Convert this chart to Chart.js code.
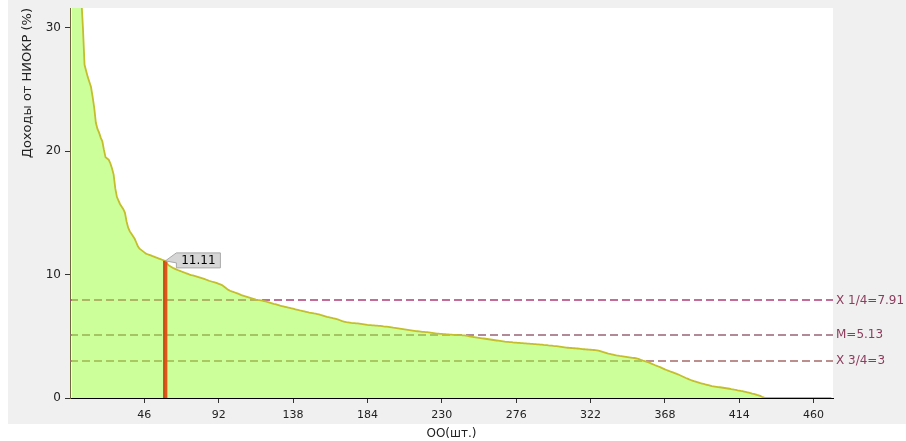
<!DOCTYPE html>
<html>
<head>
<meta charset="utf-8">
<script src="https://cdn.jsdelivr.net/npm/chart.js@4/dist/chart.umd.min.js"></script>
<style>
  html, body { margin: 0; padding: 0; background: #ffffff; }
  #wrap { width: 906px; height: 441px; position: relative; }
</style>
</head>
<body>
<div id="wrap"><canvas id="incomeChart"></canvas></div>
<script>
// доходы от НИОКР по ОО, отсортировано по убыванию (%)
const incomeValues = [
  58.0, 46.0, 41.0, 38.5, 36.0, 34.0, 32.4, 30.0, 27.0, 26.5,
  26.0, 25.6, 25.2, 24.4, 23.5, 22.3, 21.8, 21.5, 21.1, 20.8,
  20.1, 19.5, 19.4, 19.3, 19.0, 18.6, 18.1, 17.0, 16.3, 16.0,
  15.7, 15.5, 15.3, 15.0, 14.3, 13.8, 13.5, 13.3, 13.1, 12.9,
  12.6, 12.3, 12.1, 12.0, 11.9, 11.8, 11.7, 11.65, 11.6, 11.55,
  11.5, 11.45, 11.4, 11.35, 11.3, 11.25, 11.2, 11.15, 11.11, 10.9,
  10.75, 10.68, 10.6, 10.52, 10.46, 10.4, 10.35, 10.3, 10.25, 10.2,
  10.15, 10.1, 10.05, 10.0, 9.96, 9.93, 9.9, 9.86, 9.82, 9.78,
  9.74, 9.7, 9.65, 9.6, 9.55, 9.5, 9.46, 9.42, 9.38, 9.34,
  9.3, 9.25, 9.2, 9.15, 9.05, 8.95, 8.85, 8.76, 8.69, 8.64,
  8.6, 8.55, 8.5, 8.45, 8.4, 8.34, 8.3, 8.26, 8.22, 8.18,
  8.14, 8.1, 8.06, 8.02, 7.98, 7.95, 7.93, 7.91, 7.88, 7.85,
  7.82, 7.78, 7.75, 7.71, 7.67, 7.63, 7.6, 7.56, 7.52, 7.48,
  7.45, 7.42, 7.39, 7.36, 7.33, 7.3, 7.27, 7.24, 7.2, 7.17,
  7.14, 7.11, 7.07, 7.04, 7.01, 6.98, 6.95, 6.92, 6.9, 6.88,
  6.85, 6.83, 6.8, 6.77, 6.73, 6.7, 6.66, 6.62, 6.58, 6.55,
  6.52, 6.49, 6.46, 6.43, 6.4, 6.35, 6.3, 6.25, 6.2, 6.17,
  6.14, 6.12, 6.1, 6.08, 6.07, 6.06, 6.05, 6.04, 6.02, 6.0,
  5.98, 5.96, 5.94, 5.92, 5.91, 5.9, 5.89, 5.88, 5.87, 5.86,
  5.85, 5.84, 5.82, 5.8, 5.79, 5.78, 5.77, 5.75, 5.73, 5.7,
  5.68, 5.66, 5.64, 5.62, 5.6, 5.58, 5.56, 5.54, 5.52, 5.5,
  5.48, 5.46, 5.44, 5.42, 5.41, 5.4, 5.38, 5.36, 5.35, 5.34,
  5.33, 5.32, 5.3, 5.28, 5.26, 5.24, 5.22, 5.21, 5.2, 5.19,
  5.18, 5.17, 5.16, 5.15, 5.13, 5.13, 5.12, 5.12, 5.11, 5.1,
  5.1, 5.09, 5.08, 5.07, 5.05, 5.03, 5.0, 4.98, 4.96, 4.94,
  4.92, 4.9, 4.88, 4.86, 4.84, 4.82, 4.8, 4.78, 4.76, 4.74,
  4.72, 4.7, 4.68, 4.66, 4.64, 4.62, 4.6, 4.58, 4.56, 4.55,
  4.54, 4.53, 4.52, 4.5, 4.49, 4.48, 4.47, 4.46, 4.45, 4.44,
  4.43, 4.42, 4.41, 4.4, 4.39, 4.38, 4.37, 4.36, 4.35, 4.34,
  4.33, 4.32, 4.3, 4.29, 4.28, 4.26, 4.25, 4.24, 4.22, 4.21,
  4.2, 4.18, 4.16, 4.14, 4.12, 4.1, 4.08, 4.07, 4.06, 4.05,
  4.04, 4.03, 4.02, 4.01, 4.0, 3.98, 3.96, 3.95, 3.94, 3.93,
  3.92, 3.91, 3.9, 3.89, 3.88, 3.86, 3.84, 3.8, 3.76, 3.72,
  3.68, 3.64, 3.6, 3.57, 3.54, 3.51, 3.48, 3.45, 3.43, 3.41,
  3.4, 3.38, 3.36, 3.34, 3.32, 3.3, 3.28, 3.26, 3.24, 3.22,
  3.2, 3.15, 3.1, 3.05, 3.0, 2.97, 2.93, 2.89, 2.83, 2.77,
  2.71, 2.65, 2.6, 2.55, 2.5, 2.44, 2.38, 2.32, 2.27, 2.22,
  2.17, 2.12, 2.07, 2.02, 1.97, 1.92, 1.86, 1.8, 1.74, 1.68,
  1.62, 1.57, 1.51, 1.46, 1.41, 1.36, 1.32, 1.28, 1.24, 1.2,
  1.17, 1.14, 1.1, 1.07, 1.04, 1.01, 0.97, 0.95, 0.93, 0.91,
  0.89, 0.87, 0.85, 0.83, 0.81, 0.79, 0.77, 0.75, 0.72, 0.7,
  0.67, 0.65, 0.62, 0.6, 0.57, 0.55, 0.52, 0.49, 0.46, 0.43,
  0.4, 0.36, 0.33, 0.29, 0.25, 0.22, 0.17, 0.1, 0.05, 0,
  0, 0, 0, 0, 0, 0, 0, 0, 0, 0,
  0, 0, 0, 0, 0, 0, 0, 0, 0, 0,
  0, 0, 0, 0, 0, 0, 0, 0, 0, 0,
  0, 0, 0, 0, 0, 0, 0, 0, 0, 0,
  0
];

const xTickValues = [46, 92, 138, 184, 230, 276, 322, 368, 414, 460];
const yTickValues = [0, 10, 20, 30];

// квартили и медиана
const refValues = [7.91, 5.13, 3];
const refLabels = ['X 1/4=7.91', 'M=5.13', 'X 3/4=3'];
const refColors = ['#b03c78', '#966474', '#a86a6a'];

// выделенная ОО
const markedIndex = 59;
const markedValue = 11.11;

const FONT = 'DejaVu Sans';

const backgroundPlugin = {
    id: 'panelBackground',
    beforeDraw(chart) {
        const { ctx, chartArea, width, height } = chart;
        ctx.save();
        ctx.fillStyle = '#ffffff';
        ctx.fillRect(0, 0, width, height);
        ctx.fillStyle = '#f0f0f0';
        ctx.fillRect(8, 0, width - 8, 424);
        ctx.fillStyle = '#ffffff';
        ctx.fillRect(chartArea.left, chartArea.top, chartArea.right - chartArea.left, chartArea.bottom - chartArea.top);
        ctx.restore();
    }
};

const refLinesPlugin = {
    id: 'refLines',
    beforeDatasetsDraw(chart) {
        const { ctx, chartArea, scales } = chart;
        ctx.save();
        ctx.lineWidth = 1.5;
        ctx.setLineDash([8, 4]);
        refValues.forEach((v, i) => {
            const y = Math.round(scales.y.getPixelForValue(v));
            ctx.strokeStyle = refColors[i];
            ctx.beginPath();
            ctx.moveTo(chartArea.left, y);
            ctx.lineTo(chartArea.right, y);
            ctx.stroke();
        });
        ctx.restore();
    },
    afterDatasetsDraw(chart) {
        const { ctx, chartArea, scales } = chart;
        ctx.save();
        ctx.font = '12px "' + FONT + '"';
        ctx.fillStyle = '#8c3c5c';
        ctx.textBaseline = 'middle';
        ctx.textAlign = 'left';
        refValues.forEach((v, i) => {
            const y = scales.y.getPixelForValue(v);
            ctx.fillText(refLabels[i], chartArea.right + 3, y);
        });

        // выделенная ОО: столбик и выноска
        const x = scales.x.getPixelForValue(markedIndex);
        const yTop = scales.y.getPixelForValue(markedValue);
        const yBottom = scales.y.getPixelForValue(0);
        ctx.fillStyle = '#dc5818';
        ctx.fillRect(x - 2, yTop, 4, yBottom - yTop);
        ctx.fillStyle = '#b23c10';
        ctx.fillRect(x - 2, yTop, 1, yBottom - yTop);

        const boxL = x + 11, boxT = yTop - 8, boxW = 44, boxH = 15;
        ctx.beginPath();
        ctx.moveTo(x, yTop);
        ctx.lineTo(boxL, boxT);
        ctx.lineTo(boxL + boxW, boxT);
        ctx.lineTo(boxL + boxW, boxT + boxH);
        ctx.lineTo(boxL, boxT + boxH);
        ctx.lineTo(boxL, yTop + 2);
        ctx.closePath();
        ctx.fillStyle = '#d6d6d6';
        ctx.fill();
        ctx.strokeStyle = '#a8a8a8';
        ctx.lineWidth = 1;
        ctx.stroke();
        ctx.fillStyle = '#000000';
        ctx.textAlign = 'center';
        ctx.fillText(markedValue.toFixed(2), boxL + boxW / 2, boxT + boxH / 2 + 0.5);
        ctx.restore();
    }
};

const ctx = document.getElementById('incomeChart').getContext('2d');
new Chart(ctx, {
    type: 'line',
    data: {
        datasets: [{
            label: 'Доходы от НИОКР',
            data: incomeValues.map((v, i) => ({ x: i + 1, y: v })),
            borderColor: '#c4be2c',
            backgroundColor: 'rgba(153, 255, 51, 0.5)',
            borderWidth: 1.8,
            pointRadius: 0,
            tension: 0,
            fill: 'origin'
        }]
    },
    options: {
        responsive: true,
        maintainAspectRatio: false,
        animation: false,
        layout: { padding: { left: 0, right: 73, top: 8, bottom: 0 } },
        plugins: {
            legend: { display: false },
            tooltip: { enabled: false }
        },
        scales: {
            x: {
                type: 'linear',
                min: 0,
                max: 472,
                afterBuildTicks: scale => { scale.ticks = xTickValues.map(v => ({ value: v })); },
                afterFit: scale => { scale.height = 43; scale.paddingLeft = 0; scale.paddingRight = 0; },
                border: { color: '#000000', width: 1 },
                grid: { drawOnChartArea: false, drawTicks: true, tickLength: 5, tickColor: '#333333' },
                ticks: { color: '#222222', font: { family: FONT, size: 11 }, padding: 6, maxRotation: 0 },
                title: {
                    display: true,
                    text: 'ОО(шт.)',
                    color: '#222222',
                    font: { family: FONT, size: 12 },
                    padding: { top: 0, bottom: 0 }
                }
            },
            y: {
                min: 0,
                max: 31.6,
                afterBuildTicks: scale => { scale.ticks = yTickValues.map(v => ({ value: v })); },
                afterFit: scale => { scale.width = 70; scale.paddingTop = 0; scale.paddingBottom = 0; },
                border: { color: '#6e6a3c', width: 1 },
                grid: { drawOnChartArea: false, drawTicks: true, tickLength: 5, tickColor: '#333333' },
                ticks: { color: '#222222', font: { family: FONT, size: 12 }, padding: 4 },
                title: {
                    display: true,
                    text: 'Доходы от НИОКР (%)',
                    align: 'end',
                    color: '#222222',
                    font: { family: FONT, size: 13 },
                    padding: { top: 20, bottom: 0 }
                }
            }
        }
    },
    plugins: [backgroundPlugin, refLinesPlugin]
});
</script>
</body>
</html>
